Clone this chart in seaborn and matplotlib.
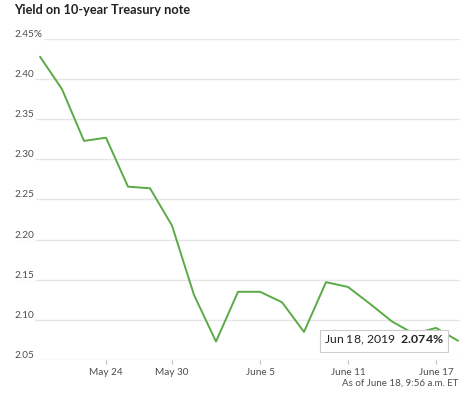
import numpy as np
import pandas as pd
import matplotlib
matplotlib.use("Agg")
import matplotlib.pyplot as plt
import seaborn as sns

# Trading days (Memorial Day May 27 skipped) and the 10-year yield
dates = ["2019-05-21", "2019-05-22", "2019-05-23", "2019-05-24", "2019-05-28",
         "2019-05-29", "2019-05-30", "2019-05-31", "2019-06-03", "2019-06-04",
         "2019-06-05", "2019-06-06", "2019-06-07", "2019-06-10", "2019-06-11",
         "2019-06-12", "2019-06-13", "2019-06-14", "2019-06-17", "2019-06-18"]
yields = [2.428, 2.3875, 2.323, 2.327, 2.266, 2.264, 2.2175, 2.131, 2.073, 2.135,
          2.135, 2.122, 2.085, 2.147, 2.141, 2.120, 2.098, 2.0825, 2.090, 2.074]

tick_dates = ["2019-05-24", "2019-05-30", "2019-06-05", "2019-06-11", "2019-06-17"]
tick_labels = ["May 24", "May 30", "June 5", "June 11", "June 17"]
y_ticks = [2.05, 2.10, 2.15, 2.20, 2.25, 2.30, 2.35, 2.40, 2.45]
y_labels = ["2.05", "2.10", "2.15", "2.20", "2.25", "2.30", "2.35", "2.40", "2.45%"]

df = pd.DataFrame({"date": pd.to_datetime(dates), "yield": yields})
df["day"] = np.arange(len(df))

sns.set_style("white")
plt.rcParams["font.family"] = ["Lato", "DejaVu Sans"]
plt.rcParams["mathtext.fontset"] = "custom"
plt.rcParams["mathtext.rm"] = "Lato"
plt.rcParams["mathtext.bf"] = "Lato:bold"

green = "#5aaa46"
grid_col = "#e6e6e6"
text_col = "#4d4d4d"

fig = plt.figure(figsize=(4.7, 3.95), dpi=100)
ax = fig.add_axes([14 / 470, 35 / 395, 446 / 470, 321 / 395])

# gridlines
for v in y_ticks:
    ax.axhline(v, color=grid_col, lw=1, zorder=0)

sns.lineplot(data=df, x="day", y="yield", color=green, lw=1.4, ax=ax, zorder=3)

n = len(df)
ax.set_xlim(-26 / 22, n - 1 + 2 / 22)
ax.set_ylim(2.05, 2.45)

# y labels sit on top of the gridlines at the left
for v, lab in zip(y_ticks, y_labels):
    ax.text(0, v, lab, transform=ax.get_yaxis_transform(), ha="left", va="bottom",
            fontsize=7.2, color=text_col, zorder=2,
            bbox=dict(facecolor="white", edgecolor="none", pad=1.2))
ax.set_yticks([])

tick_pos = [df.index[df["date"] == pd.Timestamp(d)][0] for d in tick_dates]
ax.set_xticks(tick_pos, tick_labels)
ax.tick_params(axis="x", length=3, width=0.8, color="#bbbbbb", pad=3,
               labelsize=7.2, labelcolor=text_col, bottom=True)
ax.set_xlabel("")
ax.set_ylabel("")
for s in ax.spines.values():
    s.set_visible(False)

# tooltip for the latest value
last = df.iloc[-1]
ax.annotate("Jun 18, 2019  $\\mathbf{%.3f\\%%}$" % last["yield"],
            xy=(last["day"], last["yield"]), xytext=(-10, 0),
            textcoords="offset points", ha="right", va="center",
            fontsize=8.8, color="#222222", zorder=5,
            bbox=dict(boxstyle="square,pad=0.35", facecolor="white",
                      edgecolor="#cccccc", lw=0.8))

fig.text(14 / 470, 1 - 10 / 395, "Yield on 10-year Treasury note", ha="left", va="center",
         fontsize=9.2, fontweight="bold", color="#222222")
fig.text(458 / 470, 1 - 383 / 395, "As of June 18, 9:56 a.m. ET", ha="right", va="center",
         fontsize=7, color=text_col)

fig.savefig("out.png", dpi=100)
